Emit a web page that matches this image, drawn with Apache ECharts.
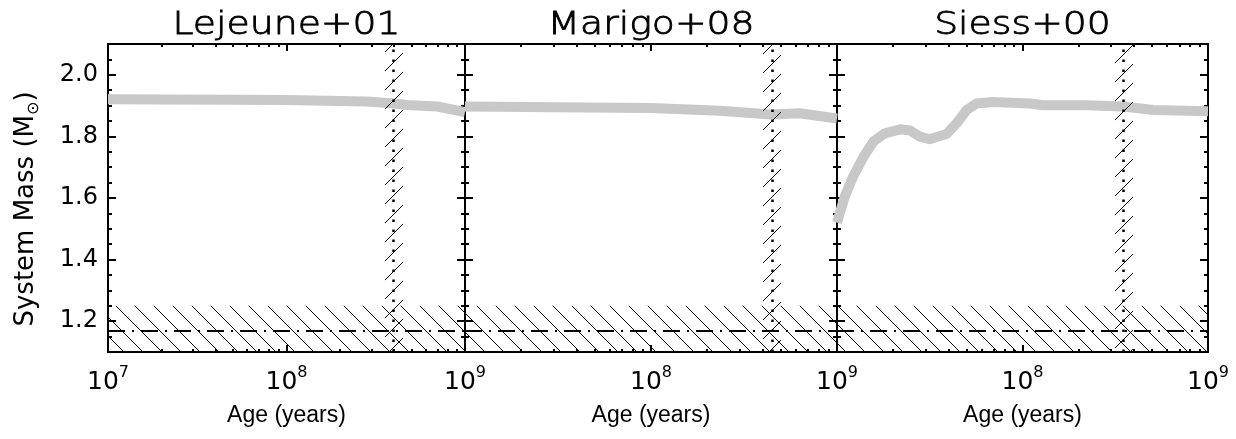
<!DOCTYPE html>
<html>
<head>
<meta charset="utf-8">
<script src="https://cdn.jsdelivr.net/npm/echarts@6/dist/echarts.min.js"></script>
<style>
  html, body { margin: 0; padding: 0; background: #fff; }
  #chart { width: 1236px; height: 439px; }
</style>
</head>
<body>
<div id="chart"></div>
<script>
// ---- data -------------------------------------------------------------
const panelTitles = ['Lejeune+01', 'Marigo+08', 'Siess+00'];

// system mass (solar masses) versus age (years) for each isochrone set
const lejeuneAge  = [1e7, 2e7, 5e7, 1e8, 2e8, 2.8e8, 4e8, 4.7e8, 6.1e8, 7e8, 1e9];
const lejeuneMass = [1.921, 1.920, 1.919, 1.918, 1.915, 1.913, 1.907, 1.902, 1.899, 1.897, 1.879];

const marigoAge  = [1e7, 3e7, 1e8, 2.35e8, 4.4e8, 6.3e8, 1e9];
const marigoMass = [1.897, 1.895, 1.892, 1.883, 1.871, 1.875, 1.858];

const siessAge  = [1e7, 1.1e7, 1.22e7, 1.39e7, 1.57e7, 1.81e7, 2.19e7, 2.48e7, 2.8e7, 3.15e7,
                   3.9e7, 4.42e7, 5.0e7, 5.66e7, 6.96e7, 1.1e8, 1.29e8, 2.22e8, 3.5e8, 5.07e8, 1e9];
const siessMass = [1.52, 1.604, 1.669, 1.734, 1.783, 1.81, 1.823, 1.819, 1.799, 1.791,
                   1.808, 1.843, 1.886, 1.907, 1.912, 1.907, 1.901, 1.901, 1.897, 1.886, 1.882];

// age window (years): hatched band with a dotted centre line
const ageBandLow  = [3.56e8, 4.0e8, 3.15e8];
const ageBandHigh = [4.5e8, 5.0e8, 3.94e8];
const ageBandMid  = [3.95e8, 4.46e8, 3.5e8];

// lower mass limit: hatched region up to massLimitTop, dash-dot line at massLimitLine
const massLimitTop  = 1.25;
const massLimitLine = 1.165;

// axis ticks
const xTickExponents = [7, 8, 9];
const xMinorExponents = [2, 3, 4, 5, 6, 7, 8, 9]
  .flatMap(k => [7, 8].map(n => Math.log10(k) + n));
const yTicks = [1.2, 1.4, 1.6, 1.8, 2.0];
const yMinorTicks = [1.15, 1.25, 1.3, 1.35, 1.45, 1.5, 1.55, 1.65, 1.7, 1.75, 1.85, 1.9, 1.95, 2.05];

// ---- helpers ----------------------------------------------------------
function hatchPattern(dir) {
  const s = 19;
  const c = document.createElement('canvas');
  c.width = s; c.height = s;
  const g = c.getContext('2d');
  g.strokeStyle = '#000';
  g.lineWidth = 1;
  g.beginPath();
  if (dir === 'back') {
    g.moveTo(-1, -1); g.lineTo(s + 1, s + 1);
    g.moveTo(-s - 1, -1); g.lineTo(1, s + 1);
    g.moveTo(s - 1, -1); g.lineTo(2 * s + 1, s + 1);
  } else {
    g.moveTo(-1, s + 1); g.lineTo(s + 1, -1);
    g.moveTo(-s - 1, s + 1); g.lineTo(1, -1);
    g.moveTo(s - 1, s + 1); g.lineTo(2 * s + 1, -1);
  }
  g.stroke();
  return { image: c, repeat: 'repeat' };
}
const slashFill = hatchPattern('fwd');
const backFill = hatchPattern('back');

const BLACK = '#000';
const axisLineStyle = { color: BLACK, width: 2 };
const tickStyle = { color: BLACK, width: 2 };

const panels = [
  { left: 108, width: 357, age: lejeuneAge, mass: lejeuneMass },
  { left: 465, width: 372, age: marigoAge, mass: marigoMass },
  { left: 837, width: 371, age: siessAge, mass: siessMass }
];

const grid = [], xAxis = [], yAxis = [], series = [], graphic = [];

panels.forEach((p, i) => {
  grid.push({ left: p.left, width: p.width, top: 44, height: 308, outerBoundsMode: 'none', containLabel: false });

  const xb = xAxis.length;
  // data axis (logarithmic age)
  xAxis.push({ type: 'log', logBase: 10, gridIndex: i, min: 1e7, max: 1e9, show: false });
  // bottom axis: major ticks + labels
  xAxis.push({
    type: 'value', gridIndex: i, min: 7, max: 9, position: 'bottom',
    axisLine: { show: true, onZero: false, lineStyle: axisLineStyle },
    axisTick: { show: true, inside: true, length: 7, customValues: xTickExponents, lineStyle: tickStyle },
    axisLabel: {
      show: true,
      customValues: i === 0 ? xTickExponents : xTickExponents.slice(1),
      formatter: v => '10{s|' + Math.round(v) + '}',
      margin: 13, color: BLACK, fontFamily: 'DejaVu Sans', fontSize: 25, lineHeight: 34,
      rich: { s: { fontSize: 16, lineHeight: 16, verticalAlign: 'top', fontFamily: 'DejaVu Sans', color: BLACK } }
    },
    splitLine: { show: false },
    name: 'Age (years)', nameLocation: 'middle', nameGap: 52,
    nameTextStyle: { color: BLACK, fontFamily: 'Liberation Sans', fontSize: 23 }
  });
  // bottom axis: minor ticks
  xAxis.push({
    type: 'value', gridIndex: i, min: 7, max: 9, position: 'bottom',
    axisLine: { show: false, onZero: false },
    axisTick: { show: true, inside: true, length: 3, customValues: xMinorExponents, lineStyle: tickStyle },
    axisLabel: { show: false }, splitLine: { show: false }
  });
  // top axis: major + minor ticks
  xAxis.push({
    type: 'value', gridIndex: i, min: 7, max: 9, position: 'top',
    axisLine: { show: true, onZero: false, lineStyle: axisLineStyle },
    axisTick: { show: true, inside: true, length: 7, customValues: xTickExponents, lineStyle: tickStyle },
    axisLabel: { show: false }, splitLine: { show: false }
  });
  xAxis.push({
    type: 'value', gridIndex: i, min: 7, max: 9, position: 'top',
    axisLine: { show: false, onZero: false },
    axisTick: { show: true, inside: true, length: 3, customValues: xMinorExponents, lineStyle: tickStyle },
    axisLabel: { show: false }, splitLine: { show: false }
  });

  const yb = yAxis.length;
  ['left', 'right'].forEach(side => {
    yAxis.push({
      type: 'value', gridIndex: i, min: 1.1, max: 2.1, position: side,
      axisLine: { show: true, onZero: false, lineStyle: axisLineStyle },
      axisTick: { show: true, inside: true, length: 8, customValues: yTicks, lineStyle: tickStyle },
      axisLabel: {
        show: i === 0 && side === 'left', customValues: yTicks,
        formatter: v => v.toFixed(1), margin: 10,
        color: BLACK, fontFamily: 'DejaVu Sans', fontSize: 24
      },
      splitLine: { show: false }
    });
    yAxis.push({
      type: 'value', gridIndex: i, min: 1.1, max: 2.1, position: side,
      axisLine: { show: false, onZero: false },
      axisTick: { show: true, inside: true, length: 4, customValues: yMinorTicks, lineStyle: tickStyle },
      axisLabel: { show: false }, splitLine: { show: false }
    });
  });

  // mass track
  series.push({
    type: 'line', xAxisIndex: xb, yAxisIndex: yb,
    data: p.age.map((a, k) => [a, p.mass[k]]),
    symbol: 'none', silent: true, z: 2,
    lineStyle: { color: '#c8c8c8', width: 10, join: 'round' }
  });

  // hatched regions and reference lines
  series.push({
    type: 'line', xAxisIndex: xb, yAxisIndex: yb, data: [], silent: true, z: 5,
    markArea: {
      silent: true, z: 5,
      emphasis: { disabled: true },
      data: [
        [{ xAxis: ageBandLow[i], itemStyle: { color: slashFill, opacity: 1, borderWidth: 0 } },
         { xAxis: ageBandHigh[i] }],
        [{ yAxis: 1.1, itemStyle: { color: backFill, opacity: 1, borderWidth: 0 } },
         { yAxis: massLimitTop }]
      ]
    },
    markLine: {
      silent: true, symbol: ['none', 'none'], label: { show: false },
      emphasis: { disabled: true },
      data: [
        { xAxis: ageBandMid[i], lineStyle: { color: BLACK, width: 2.5, type: [2.5, 7.5] } },
        { yAxis: massLimitLine, lineStyle: { color: BLACK, width: 2, type: [17, 7, 2, 7] } }
      ]
    }
  });

  graphic.push({
    type: 'text', x: p.left + p.width / 2, y: 26, scaleX: 1.18, silent: true,
    style: {
      text: panelTitles[i], fontFamily: 'DejaVu Sans', fontSize: 32, fontWeight: 200, fill: BLACK,
      stroke: BLACK, lineWidth: 0.8,
      align: 'center', verticalAlign: 'middle', textAlign: 'center', textVerticalAlign: 'middle'
    }
  });
});

graphic.push({
  type: 'text', x: 26, y: 209, rotation: Math.PI / 2, silent: true,
  style: {
    text: 'System Mass (M{sub|⊙})', fontFamily: 'DejaVu Sans', fontSize: 26, lineHeight: 32, fill: BLACK,
    align: 'center', verticalAlign: 'middle', textAlign: 'center', textVerticalAlign: 'middle',
    rich: { sub: { fontSize: 16, lineHeight: 16, verticalAlign: 'bottom', fontFamily: 'DejaVu Sans', fill: BLACK } }
  }
});

const chart = echarts.init(document.getElementById('chart'), null, { renderer: 'canvas' });
chart.setOption({
  animation: false,
  backgroundColor: '#fff',
  grid, xAxis, yAxis, series, graphic
});
</script>
</body>
</html>
